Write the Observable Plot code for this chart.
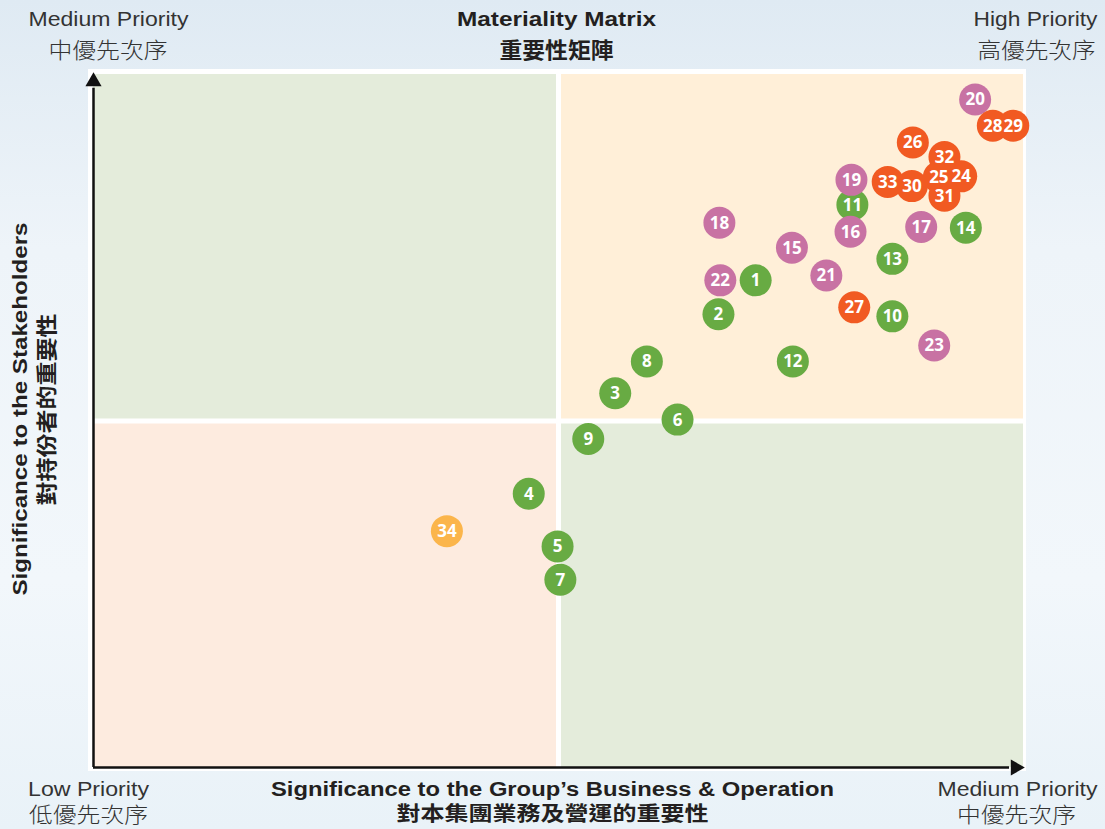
<!DOCTYPE html>
<html>
<head>
<meta charset="utf-8">
<script src="https://cdn.jsdelivr.net/npm/d3@7"></script>
<script src="https://cdn.jsdelivr.net/npm/@observablehq/plot@0.6"></script>
<style>
  html, body { margin: 0; padding: 0; }
  #wrap {
    position: relative; width: 1105px; height: 829px; overflow: hidden;
    background: linear-gradient(180deg, #dfeaf3 0%, #eef4f9 30%, #f2f7fb 70%, #e9f2f8 100%);
  }
  #box { position: absolute; left: 88px; top: 69px; width: 938px; height: 702px; background: #ffffff; }
  #chart { position: absolute; left: 0; top: 0; }
  #chart svg { background: transparent !important; }
</style>
</head>
<body>
<div id="wrap"><div id="box"></div><div id="chart"></div></div>
<script>
// ---- data (scale 0..100 on both axes) ----
const ids    = [1,2,3,4,5,6,7,8,9,10,11,12,13,14,15,16,17,18,19,20,21,22,23,24,25,26,27,28,29,30,31,32,33,34];
const xs     = [71.2,67.2,56.1,46.8,49.9,62.8,50.2,59.5,53.2,85.9,81.6,75.2,85.9,93.8,75.1,81.4,89.0,67.3,81.5,94.8,78.8,67.4,90.4,93.3,90.9,88.1,81.8,96.7,98.9,88.0,91.5,91.5,85.4,38.0];
const ys     = [70.3,65.4,54.0,39.5,31.9,50.2,27.1,58.6,47.4,65.1,81.2,58.6,73.4,77.9,75.0,77.3,78.0,78.6,84.8,96.4,71.0,70.3,60.9,85.3,85.2,90.2,66.4,92.6,92.6,83.9,82.5,88.1,84.5,34.1];
const groups = ["G","G","G","G","G","G","G","G","G","G","G","G","G","G","P","P","P","P","P","P","P","P","P","O","O","O","O","O","O","O","O","O","O","Y"];
const groupDomain = ["G","P","O","Y"];
const groupColors = ["#68ab43","#c872a3","#f15a22","#fbb54b"];

const quadrants = [
  {x1: 0,  x2: 50,  y1: 50, y2: 100, q: "mediumTop"},
  {x1: 50, x2: 100, y1: 50, y2: 100, q: "high"},
  {x1: 0,  x2: 50,  y1: 0,  y2: 50,  q: "low"},
  {x1: 50, x2: 100, y1: 0,  y2: 50,  q: "mediumBottom"}
];
const quadColors = {mediumTop: "#e4ecdb", high: "#ffefd8", low: "#fdebdf", mediumBottom: "#e4ecdb"};

const title   = ["Materiality Matrix", "重要性矩陣"];
const xLabel  = ["Significance to the Group’s Business & Operation", "對本集團業務及營運的重要性"];
const yLabel  = ["Significance to the Stakeholders", "對持份者的重要性"];
const cornerTL = ["Medium Priority", "中優先次序"];
const cornerTR = ["High Priority", "高優先次序"];
const cornerBL = ["Low Priority", "低優先次序"];
const cornerBR = ["Medium Priority", "中優先次序"];

const points = ids.map((id, i) => ({id, x: xs[i], y: ys[i], g: groups[i]}));

const EN = "'Liberation Sans', Arial, Helvetica, sans-serif";
const ZH = "'Noto Sans CJK TC', 'Noto Sans CJK SC', sans-serif";
const LBL = "'Open Sans', 'Noto Sans', sans-serif";

// target rendered widths (px) for the condensed-looking label fonts
const fitWidths = new Map();
const marksText = [];
function lab(str, width, o) {
  fitWidths.set(str, width);
  marksText.push(Plot.text([{s: str}], {text: "s", textAnchor: "middle", lineAnchor: "middle", ...o}));
}

lab(title[0], 199, {frameAnchor: "top", dx: -2, dy: -55, fontSize: 21, fontWeight: "bold", fontFamily: EN, fill: "#231f20"});
lab(title[1], 114, {frameAnchor: "top", dx: -2, dy: -24, fontSize: 22, fontWeight: "bold", fontFamily: ZH, fill: "#231f20"});
lab(cornerTL[0], 160, {frameAnchor: "top-left", dx: 15, dy: -55, fontSize: 21, fontFamily: EN, fill: "#333"});
lab(cornerTL[1], 117, {frameAnchor: "top-left", dx: 14.5, dy: -24, fontSize: 22, fontFamily: ZH, fontWeight: 300, fill: "#333"});
lab(cornerTR[0], 124, {frameAnchor: "top-right", dx: 12, dy: -55, fontSize: 21, fontFamily: EN, fill: "#333"});
lab(cornerTR[1], 118, {frameAnchor: "top-right", dx: 13, dy: -24, fontSize: 22, fontFamily: ZH, fontWeight: 300, fill: "#333"});
lab(cornerBL[0], 121, {frameAnchor: "bottom-left", dx: -5, dy: 22, fontSize: 20, fontFamily: EN, fill: "#333"});
lab(cornerBL[1], 119, {frameAnchor: "bottom-left", dx: -5, dy: 47.5, fontSize: 21, fontFamily: ZH, fontWeight: 300, fill: "#333"});
lab(cornerBR[0], 160, {frameAnchor: "bottom-right", dx: -6, dy: 22, fontSize: 20, fontFamily: EN, fill: "#333"});
lab(cornerBR[1], 119, {frameAnchor: "bottom-right", dx: -7, dy: 47.5, fontSize: 21, fontFamily: ZH, fontWeight: 300, fill: "#333"});
lab(xLabel[0], 563, {frameAnchor: "bottom", dx: -6, dy: 22, fontSize: 20, fontWeight: "bold", fontFamily: EN, fill: "#231f20"});
lab(xLabel[1], 312, {frameAnchor: "bottom", dx: -6, dy: 47.5, fontSize: 20, fontWeight: "bold", fontFamily: ZH, fill: "#231f20"});
lab(yLabel[0], 373, {frameAnchor: "left", dx: -73, dy: -12, rotate: -90, fontSize: 21, fontWeight: "bold", fontFamily: EN, fill: "#231f20"});
lab(yLabel[1], 192, {frameAnchor: "left", dx: -46, dy: -11.5, rotate: -90, fontSize: 21, fontWeight: "bold", fontFamily: ZH, fill: "#231f20"});

const chart = Plot.plot({
  width: 1105,
  height: 829,
  marginLeft: 93,
  marginRight: 82,
  marginTop: 74,
  marginBottom: 62,
  x: {domain: [0, 100], axis: null},
  y: {domain: [0, 100], axis: null},
  color: {domain: groupDomain, range: groupColors},
  style: {background: "transparent", overflow: "visible"},
  marks: [
    Plot.rect(quadrants, {x1: "x1", x2: "x2", y1: "y1", y2: "y2", fill: d => quadColors[d.q]}),
    Plot.ruleX([50], {stroke: "white", strokeWidth: 5}),
    Plot.ruleY([50], {stroke: "white", strokeWidth: 5}),
    Plot.ruleX([0], {y1: 0, y2: 98, stroke: "#111", strokeWidth: 2.5}),
    Plot.ruleY([0], {x1: 0, x2: 98.5, stroke: "#111", strokeWidth: 2.5}),
    Plot.dot([{x: 0, y: 100}], {x: "x", y: "y", symbol: "triangle", r: 6, fill: "#111", dy: 7}),
    Plot.dot([{x: 100, y: 0}], {x: "x", y: "y", symbol: "triangle", r: 6, fill: "#111", rotate: 90, dx: -8}),
    Plot.dot(points, {x: "x", y: "y", r: 16, fill: "g"}),
    Plot.text(points, {x: "x", y: "y", text: "id", fill: "white", fontSize: 17, fontWeight: "bold", fontFamily: LBL, dy: 0.5}),
    ...marksText
  ]
});
document.getElementById("chart").appendChild(chart);

// condense/stretch label text to the widths seen in the reference
d3.select(chart).selectAll("text").each(function() {
  const w = fitWidths.get(this.textContent);
  if (w !== undefined) {
    this.setAttribute("textLength", w);
    this.setAttribute("lengthAdjust", "spacingAndGlyphs");
  }
});
</script>
</body>
</html>
